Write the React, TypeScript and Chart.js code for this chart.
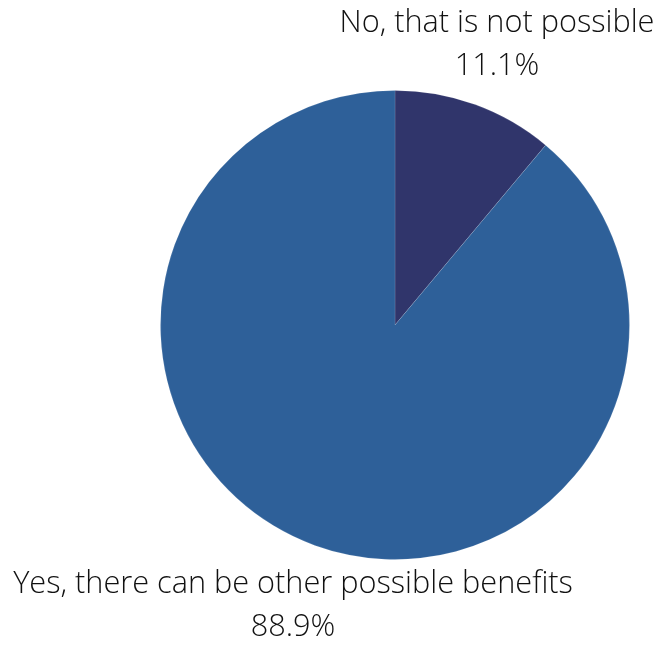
import React, { useEffect, useRef } from "react";
import { Chart, registerables } from "chart.js";

Chart.register(...registerables);

const categories = ["No, that is not possible", "Yes, there can be other possible benefits"];
const values = [11.1, 88.9];
const percentLabels = ["11.1%", "88.9%"];
const colors = ["#30356b", "#2e6099"];

const outsideLabels = {
  id: "outsideLabels",
  afterDatasetsDraw(chart: any) {
    const ctx = chart.ctx;
    const meta = chart.getDatasetMeta(0);
    ctx.save();
    ctx.font = "300 30.7px 'Open Sans'";
    ctx.fillStyle = "#111111";
    ctx.textAlign = "center";
    ctx.textBaseline = "middle";
    meta.data.forEach((arc: any, i: number) => {
      const { x, y, startAngle, endAngle, outerRadius } = arc.getProps(
        ["x", "y", "startAngle", "endAngle", "outerRadius"],
        true
      );
      const mid = (startAngle + endAngle) / 2;
      const r = outerRadius + 64;
      const cx = x + Math.cos(mid) * r;
      const cy = y + Math.sin(mid) * r;
      const lh = 43;
      ctx.fillText(categories[i], cx, cy - lh / 2);
      ctx.fillText(percentLabels[i], cx, cy + lh / 2);
    });
    ctx.restore();
  },
};

export default function App() {
  const ref = useRef<HTMLCanvasElement>(null);
  useEffect(() => {
    if (!ref.current) return;
    const chart = new Chart(ref.current, {
      type: "pie",
      data: {
        labels: categories,
        datasets: [
          {
            data: values,
            backgroundColor: colors,
            borderColor: "rgba(255,255,255,0.12)",
            borderWidth: 1,
          },
        ],
      },
      options: {
        animation: false,
        responsive: false,
        layout: { padding: { left: 160, right: 28, top: 90, bottom: 86 } },
        plugins: {
          legend: { display: false },
          tooltip: { enabled: false },
        },
      },
      plugins: [outsideLabels],
    });
    return () => chart.destroy();
  }, []);
  return (
    <div style={{ position: "fixed", left: 0, top: 0, width: 658, height: 646, background: "#fff" }}>
      <canvas ref={ref} width={658} height={646} style={{ width: 658, height: 646 }} />
    </div>
  );
}
